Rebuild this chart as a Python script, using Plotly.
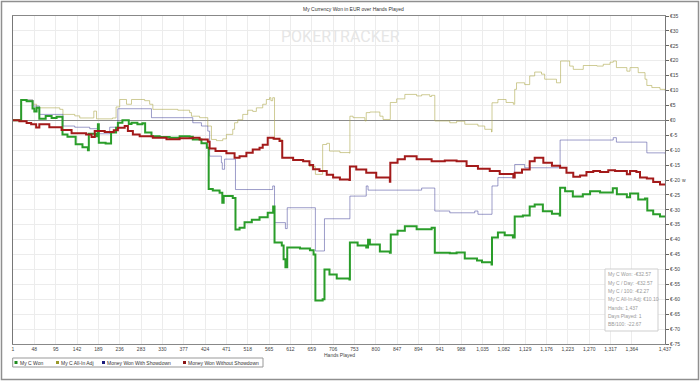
import plotly.graph_objects as go

# ---------------- data (hand number, cumulative EUR) ----------------
won_hands = [1, 19, 31, 44, 48, 53, 59, 73, 86, 97, 110, 121, 139, 154, 166, 168, 184, 188, 190, 205,
             217, 228, 232, 242, 256, 262, 275, 286, 292, 306, 324, 346, 368, 390, 397, 416, 428, 432, 441, 456,
             462, 465, 485, 491, 500, 511, 527, 544, 562, 574, 577, 593, 597, 601, 605, 633, 655, 663, 667, 683,
             687, 698, 714, 742, 743, 760, 779, 783, 787, 809, 831, 833, 848, 864, 890, 923, 930, 963, 978, 996,
             1023, 1034, 1055, 1056, 1069, 1084, 1102, 1106, 1124, 1139, 1150, 1168, 1188, 1205, 1206, 1217, 1234, 1256, 1272, 1294,
             1322, 1331, 1353, 1360, 1378, 1393, 1398, 1411, 1426, 1437]
won_vals = [0, 6.8, 6.4, 4.0, 3.0, 4.2, 0.5, 1.5, 0.8, 1.2, -4.7, -5.5, -8.0, -9.0, -10.0, -4.5, -5.3, -1.3, -7.5, -7.8,
            -4.1, -2.5, -0.8, 0, -1.2, -0.8, -1.3, -1.0, -4.1, -5.3, -5.6, -5.8, -5.3, -5.5, -6.4, -7.7, -9.2, -23.0, -23.5, -24.3,
            -27.6, -25.4, -26.0, -36.6, -36.0, -34.2, -33.3, -32.5, -31.0, -28.9, -41.0, -42.0, -46.6, -49.3, -42.6, -43.0, -43.6, -45.0, -60.4, -60.0,
            -50.0, -51.7, -53.0, -53.4, -41.0, -42.0, -42.6, -40.0, -41.6, -44.0, -44.4, -38.3, -37.0, -35.5, -36.5, -36.0, -44.4, -44.6, -44.3, -46.3,
            -47.0, -47.6, -48.3, -39.3, -37.6, -38.5, -39.3, -32.2, -31.9, -28.9, -28.2, -30.5, -31.3, -31.9, -22.6, -23.8, -25.5, -24.8, -23.8, -24.2,
            -22.8, -24.8, -25.8, -24.5, -26.5, -26.2, -30.2, -31.5, -32.2, -32.57]

nosd_hands = [1, 15, 31, 41, 52, 59, 81, 108, 130, 162, 174, 181, 203, 223, 232, 247, 254, 265, 280, 309,
              339, 368, 397, 412, 430, 434, 447, 471, 489, 500, 515, 529, 544, 551, 562, 575, 588, 594, 618, 640,
              654, 662, 676, 692, 706, 721, 742, 743, 757, 779, 801, 831, 832, 848, 864, 890, 923, 952, 978, 1000,
              1025, 1051, 1073, 1103, 1106, 1122, 1139, 1150, 1169, 1188, 1206, 1220, 1235, 1250, 1264, 1279, 1294, 1312, 1327, 1353,
              1360, 1374, 1382, 1397, 1411, 1426, 1437]
nosd_vals = [0, -0.3, -0.9, -1.3, -2.4, -1.3, -2.3, -3.2, -4.3, -4.7, -5.6, -3.6, -3.9, -3.3, -2.5, -1.9, -3.6, -4.7, -5.3, -5.8,
             -6.3, -6.0, -5.8, -6.4, -7.2, -9.4, -10.3, -11.0, -12.5, -12.0, -10.9, -9.8, -9.2, -8.2, -5.8, -6.2, -6.9, -12.5, -13.3, -13.7,
             -15.0, -16.4, -17.0, -18.2, -19.2, -19.8, -20.0, -15.5, -16.5, -17.6, -19.2, -20.6, -14.2, -13.0, -12.0, -13.0, -13.7, -13.5, -13.7, -15.3,
             -16.2, -17.0, -18.0, -19.2, -17.6, -16.5, -13.7, -12.5, -14.2, -15.2, -15.9, -17.6, -18.9, -18.5, -17.3, -17.0, -17.3, -16.7, -17.0, -18.1,
             -17.0, -17.3, -19.2, -19.5, -20.7, -21.5, -21.4]

sd_hands = [1, 19, 45, 59, 111, 137, 170, 188, 214, 232, 306, 397, 416, 430, 434, 460, 462, 467, 491, 573,
            577, 601, 605, 667, 687, 743, 779, 783, 901, 930, 963, 1018, 1025, 1056, 1069, 1106, 1128, 1206, 1323, 1330,
            1397, 1437]
sd_vals = [0, 6.8, 4.8, 2.0, -1.9, -2.3, -2.8, -4.5, -2.3, 3.9, 0.9, -0.8, -1.9, -3.6, -12.0, -14.2, -16.4, -13.0, -23.2, -22.0,
           -34.3, -36.3, -29.3, -43.8, -33.0, -25.4, -22.0, -23.4, -22.7, -30.4, -31.0, -30.4, -31.5, -22.0, -19.2, -14.8, -15.9, -6.6, -5.8, -7.3,
           -10.9, -11.1]

aia_hands = [1, 19, 45, 53, 104, 111, 137, 148, 179, 185, 220, 228, 236, 251, 262, 291, 302, 309, 364, 390,
             394, 412, 430, 438, 449, 463, 471, 485, 489, 496, 507, 518, 529, 537, 551, 559, 566, 569, 573, 577,
             594, 618, 640, 654, 667, 683, 692, 698, 721, 742, 743, 750, 776, 779, 787, 809, 816, 832, 846, 864,
             890, 901, 919, 923, 930, 963, 978, 996, 1025, 1040, 1055, 1056, 1069, 1087, 1103, 1106, 1110, 1128, 1139, 1150,
             1165, 1172, 1198, 1207, 1227, 1235, 1250, 1257, 1287, 1301, 1316, 1323, 1330, 1353, 1360, 1378, 1393, 1397, 1408, 1426,
             1437]
aia_vals = [0, 6.8, 5.4, 4.2, 3.7, 2.0, 1.5, 0.8, 3.1, 0.5, 0.8, 4.5, 7.0, 5.4, 7.0, 6.6, 5.4, 3.7, 3.4, 2.6,
            1.4, 0.9, -1.9, -6.4, -6.8, -6.2, -4.7, -3.0, -0.8, 0.2, 2.0, 3.4, 3.0, 4.2, 5.4, 7.0, 7.6, 6.6, 7.6, -6.4,
            -12.5, -13.3, -13.7, -15.5, -18.1, -8.1, -7.7, -10.3, -10.8, -11.0, 1.4, 0.9, -0.2, 2.6, 2.8, 1.4, 0.3, 6.0, 7.2, 8.7,
            8.2, 8.6, 8.0, 8.4, -0.2, -0.8, -0.3, -1.3, -1.9, -3.0, -3.9, 5.9, 7.0, 6.0, 5.4, 10.4, 12.6, 12.0, 14.9, 16.2,
            15.5, 13.8, 12.6, 19.9, 18.2, 17.1, 17.1, 18.4, 18.2, 18.8, 19.5, 19.9, 17.7, 16.5, 17.7, 16.0, 13.8, 11.7, 11.0, 10.4,
            10.10]

x_tickvals = [1, 48, 95, 142, 189, 236, 283, 330, 377, 424, 471, 518, 565, 612, 659, 706, 753, 800, 847, 894,
              941, 988, 1035, 1082, 1129, 1176, 1223, 1270, 1317, 1364, 1437]
x_ticktext = ["1", "48", "95", "142", "189", "236", "283", "330", "377", "424", "471", "518", "565", "612", "659",
              "706", "753", "800", "847", "894", "941", "988", "1,035", "1,082", "1,129", "1,176", "1,223", "1,270",
              "1,317", "1,364", "1,437"]
y_tickvals = [35, 30, 25, 20, 15, 10, 5, 0, -5, -10, -15, -20, -25, -30, -35, -40, -45, -50, -55, -60, -65, -70, -75]
y_ticktext = ["€35", "€30", "€25", "€20", "€15", "€10", "€5", "€0", "€-5", "€-10", "€-15", "€-20", "€-25", "€-30",
              "€-35", "€-40", "€-45", "€-50", "€-55", "€-60", "€-65", "€-70", "€-75"]

legend_names = ["My C Won", "My C All-In Adj", "Money Won With Showdown", "Money Won Without Showdown"]
legend_colors = ["#1f8c1f", "#9a9a2a", "#1c1c7c", "#8b1515"]

stats_lines = ["My C Won: -€32.57", "My C / Day: -€32.57", "My C / 100: -€2.27", "My C All-In Adj: €10.10",
               "Hands: 1,437", "Days Played: 1", "BB/100: -22.67"]

# ---------------- figure ----------------
W, H = 700, 381
L, R, T, B = 13, 35, 16, 37
PW, PH = W - L - R, H - T - B


def px(xp):
    return (xp - L) / PW


def py(yp):
    return (H - B - yp) / PH


FONT = "Liberation Sans, Arial, sans-serif"
FS = 5

fig = go.Figure()
fig.add_trace(go.Scatter(x=aia_hands, y=aia_vals, mode="lines", line_shape="hv",
                         line=dict(color="rgba(175,170,80,0.6)", width=1), name=legend_names[1], showlegend=False))
fig.add_trace(go.Scatter(x=sd_hands, y=sd_vals, mode="lines", line_shape="hv",
                         line=dict(color="rgba(60,60,150,0.5)", width=1), name=legend_names[2], showlegend=False))
fig.add_trace(go.Scatter(x=won_hands, y=won_vals, mode="lines", line_shape="hv",
                         line=dict(color="#2a9d2a", width=2), name=legend_names[0], showlegend=False))
fig.add_trace(go.Scatter(x=nosd_hands, y=nosd_vals, mode="lines", line_shape="hv",
                         line=dict(color="#a31a1a", width=2), name=legend_names[3], showlegend=False))

fig.update_layout(
    width=W, height=H,
    autosize=False,
    margin=dict(l=L, r=R, t=T, b=B, pad=0, autoexpand=False),
    paper_bgcolor="white", plot_bgcolor="white",
    showlegend=False,
    font=dict(family=FONT, size=FS, color="#444"),
    xaxis=dict(range=[1, 1437], tickvals=x_tickvals, ticktext=x_ticktext, showgrid=True, automargin=False,
               gridcolor="#ececec", gridwidth=1, showline=True, linecolor="#888", mirror=True,
               ticks="", zeroline=False, tickfont=dict(size=FS, color="#444")),
    yaxis=dict(range=[-75, 35], side="right", tickvals=y_tickvals, ticktext=y_ticktext, showgrid=True,
               automargin=False,
               gridcolor="#ececec", gridwidth=1, showline=True, linecolor="#777", mirror=True,
               ticks="outside", ticklen=3, tickcolor="#666", zeroline=True, zerolinecolor="#8c8c8c",
               zerolinewidth=1, tickfont=dict(size=FS, color="#444")),
)

shapes = []
ann = []
# outer border
shapes.append(dict(type="rect", xref="paper", yref="paper", x0=px(1.5), x1=px(698.5), y0=py(379.5), y1=py(1.5),
                   line=dict(color="#8f8f8f", width=1.5), layer="below"))
# title
ann.append(dict(text="My Currency Won in EUR over Hands Played", xref="paper", yref="paper", x=px(353), y=py(9),
                showarrow=False, font=dict(size=FS, color="#333"), xanchor="center", yanchor="middle"))
# watermark
ann.append(dict(text="POKERTRACKER", xref="paper", yref="paper", x=px(340), y=py(37), showarrow=False,
                font=dict(size=16, color="#e6e6e6", family="Roboto, " + FONT), xanchor="center", yanchor="middle"))
# axis title
ann.append(dict(text="Hands Played", xref="paper", yref="paper", x=px(339), y=py(355), showarrow=False,
                font=dict(size=FS, color="#444"), xanchor="center", yanchor="middle"))
ann.append(dict(text="w", xref="paper", yref="paper", x=px(684), y=py(180), showarrow=False,
                font=dict(size=FS, color="#444"), xanchor="center", yanchor="middle"))

# stats box
shapes.append(dict(type="rect", xref="paper", yref="paper", x0=px(605), x1=px(658), y0=py(331), y1=py(269),
                   line=dict(color="#cfcfcf", width=1), fillcolor="white", layer="above"))
stats_y = [274, 282.5, 291, 299.3, 307.7, 316, 324.3]
for t, yy in zip(stats_lines, stats_y):
    ann.append(dict(text=t, xref="paper", yref="paper", x=px(606), y=py(yy), showarrow=False,
                    font=dict(size=FS, color="#999"), xanchor="left", yanchor="middle"))

# legend
shapes.append(dict(type="rect", xref="paper", yref="paper", x0=px(12.7), x1=px(263), y0=py(367), y1=py(358),
                   line=dict(color="#999", width=1), fillcolor="white"))
sq_x = [14.5, 56, 102, 183]
for name, col, sx in zip(legend_names, legend_colors, sq_x):
    shapes.append(dict(type="rect", xref="paper", yref="paper", x0=px(sx), x1=px(sx + 3), y0=py(364), y1=py(361),
                       line=dict(width=0), fillcolor=col))
    ann.append(dict(text=name, xref="paper", yref="paper", x=px(sx + 3), y=py(362.5), showarrow=False,
                    font=dict(size=FS, color="#333"), xanchor="left", yanchor="middle"))

fig.update_layout(shapes=shapes, annotations=ann)
fig.write_html("out.html", config={"displayModeBar": False},
               post_script="document.body.style.margin='0px';document.body.style.overflow='hidden';")
